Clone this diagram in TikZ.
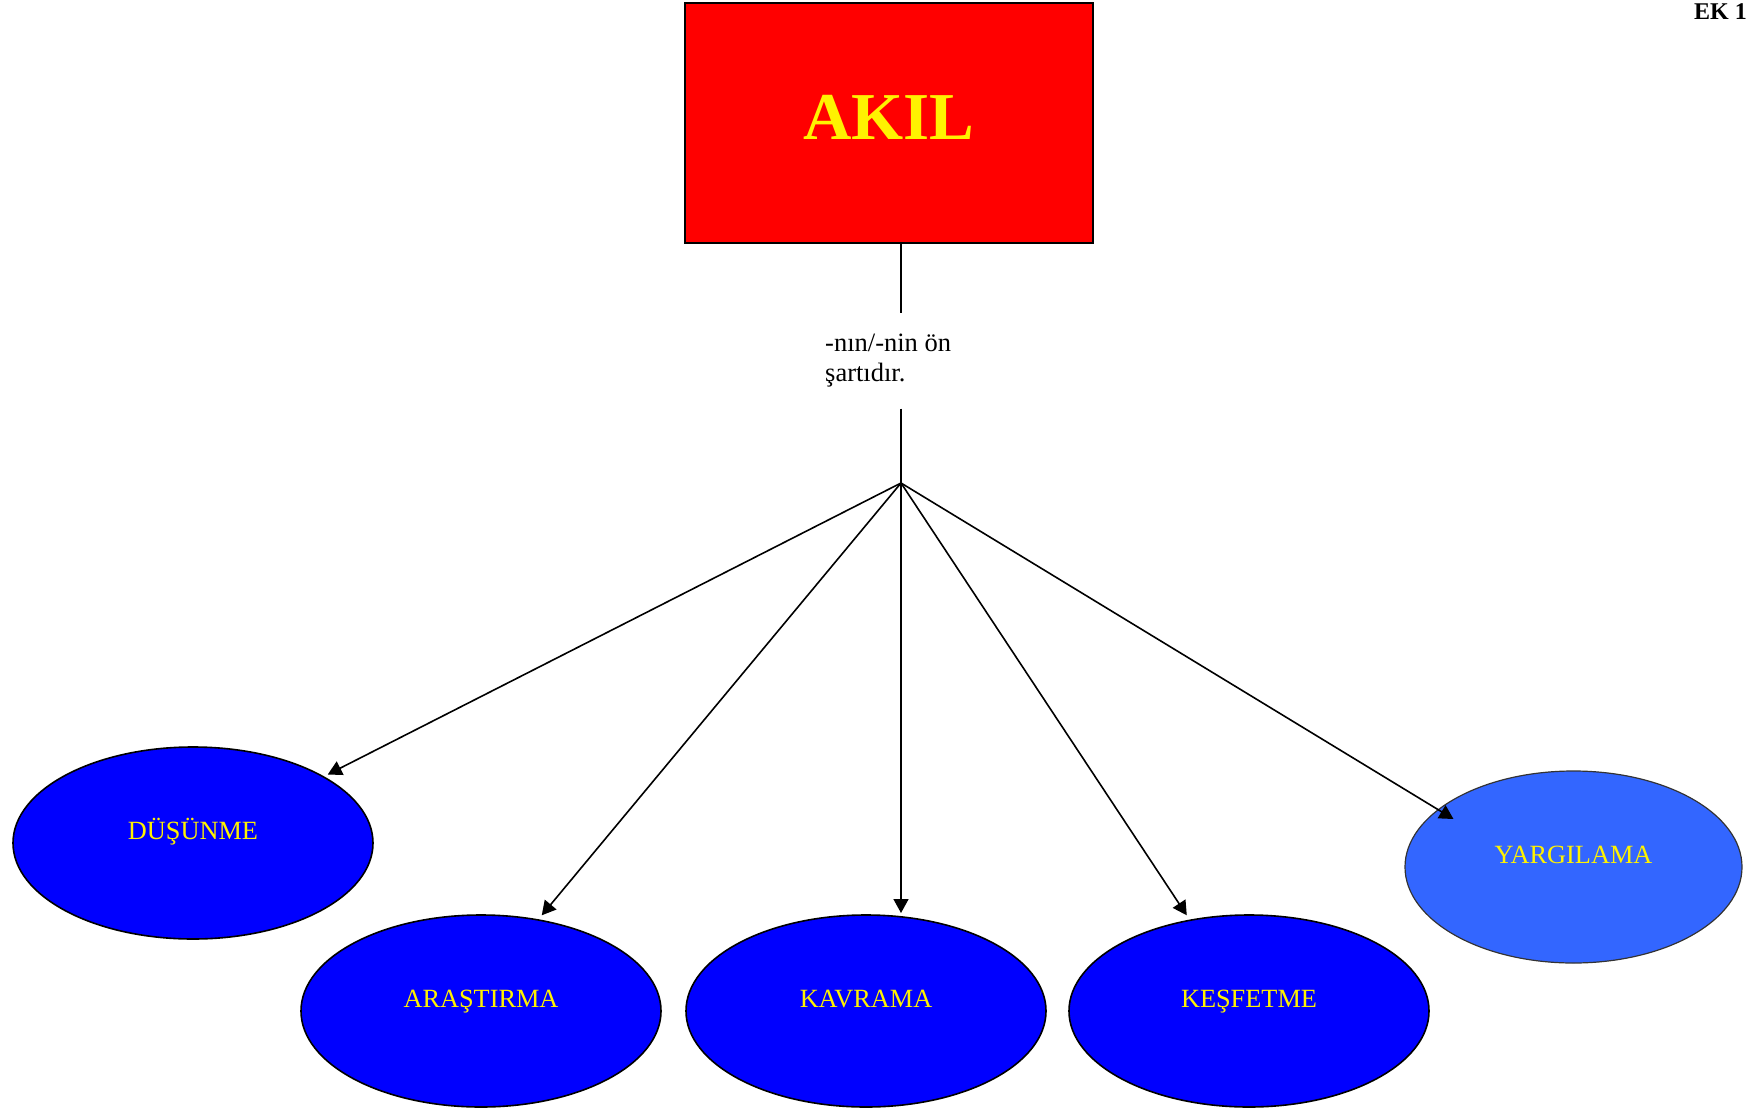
\documentclass[tikz,border=0pt]{standalone}
\usepackage{fontspec}
\setmainfont{Liberation Serif}
\usetikzlibrary{arrows.meta,shapes.geometric,positioning}

\begin{document}
\begin{tikzpicture}[
  x=1pt, y=-1pt, >={Triangle[length=14pt,width=15pt]},
  headbox/.style={
    draw=black, fill=red, line width=1.8pt, minimum width=408pt, minimum height=240pt,
    text=yellow, font=\fontsize{67}{80}\selectfont\bfseries,
    text height=44pt, text depth=12pt, inner sep=0pt, outer sep=0pt
  },
  bubble/.style 2 args={
    ellipse, draw=#1, fill=#2, line width=1.6pt, minimum width=360pt, minimum height=192pt,
    text=yellow, font=\fontsize{26.3}{30}\selectfont,
    text height=12pt, text depth=20pt, inner sep=0pt, outer sep=0pt
  },
  note/.style={align=left, font=\fontsize{26.5}{30}\selectfont, inner xsep=0pt, inner ysep=21pt},
  arr/.style={->, line width=1.6pt}
]
\definecolor{lightblue}{HTML}{3366FF}
\def\ya{843} \def\yb{1011} \def\yc{867}
\useasboundingbox (0,0) rectangle (1751,1111);

\node[font=\fontsize{24}{30}\selectfont\bfseries, anchor=base east, inner sep=0pt] (ek) at (1747,19) {EK 1};

\node[headbox] (akil) at (889,123) {AKIL};
\coordinate (hub) at (901,483);
\node[note, anchor=north west] (cond) at (825,313) {-nın/-nin ön\\şartıdır.};

\node[bubble={black}{blue}] (dus) at (193,\ya) {DÜŞÜNME};
\node[bubble={black}{blue}] (ara) at (481,\yb) {ARAŞTIRMA};
\node[bubble={black}{blue}] (kav) at (866,\yb) {KAVRAMA};
\node[bubble={black}{blue}] (kes) at (1249,\yb) {KEŞFETME};
\node[bubble={black!80}{lightblue}, minimum width=337pt, line width=1.2pt] (yar) at (1573.5,\yc) {YARGILAMA};

\draw[line width=1.6pt] (akil.south -| hub) -- (cond.north -| hub);
\draw[line width=1.6pt] (cond.south -| hub) -- (hub);
\draw[arr, shorten >=5pt] (hub) -- (dus);
\draw[arr, shorten >=6pt] (hub) -- (ara.58);
\draw[arr, shorten >=2pt] (hub) -- (hub |- kav.north);
\draw[arr, shorten >=6pt] (hub) -- (kes.123);
\draw[arr] (hub) -- ([shift={(-120,-48)}]yar.center);
\end{tikzpicture}
\end{document}
